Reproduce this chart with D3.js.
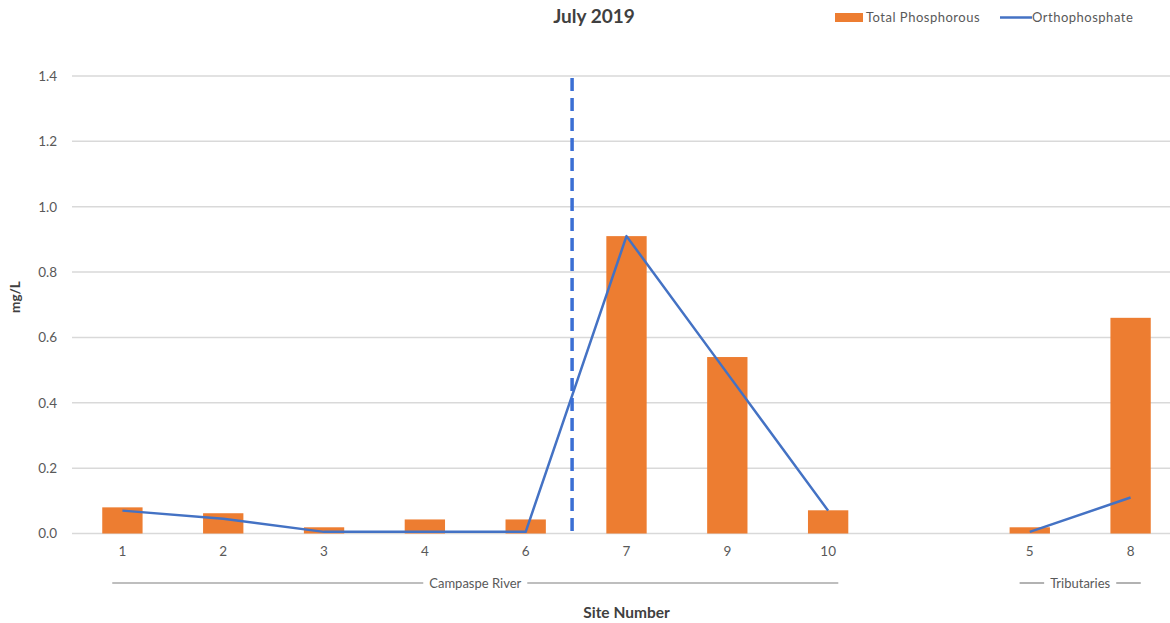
<!DOCTYPE html>
<html>
<head>
<meta charset="utf-8">
<script src="https://cdn.jsdelivr.net/npm/d3@7"></script>
<style>
  html, body { margin: 0; padding: 0; background: #fff; }
  svg { display: block; font-family: Lato, "Open Sans", sans-serif; }
</style>
</head>
<body>
<svg id="chart" width="1170" height="623"></svg>
<script>
// Site order along the x axis; the empty string leaves a blank slot between the river and tributary sites
const sites = ["1", "2", "3", "4", "6", "7", "9", "10", "", "5", "8"];
const totalPhosphorous = [0.08, 0.062, 0.019, 0.043, 0.043, 0.91, 0.54, 0.071, null, 0.019, 0.66];
const orthophosphate = [0.07, 0.045, 0.005, 0.005, 0.005, 0.91, 0.49, 0.07, null, 0.005, 0.11];
const yTicks = [0, 0.2, 0.4, 0.6, 0.8, 1.0, 1.2, 1.4];
const groups = [
  { name: "Campaspe River", first: "1", last: "10" },
  { name: "Tributaries", first: "5", last: "8" }
];
const dividerAfter = "6";
const title = "July 2019";
const seriesNames = ["Total Phosphorous", "Orthophosphate"];

const barColor = "#ED7D31";
const lineColor = "#4472C4";
const textColor = "#595959";
const gridColor = "#d9d9d9";

const svg = d3.select("#chart");
const margin = { left: 72, right: -11 };
const W = 1170;

const x = d3.scaleBand().domain(sites)
  .range([margin.left, W - margin.right])
  .paddingInner(0.6).paddingOuter(0.3);
const y = d3.scaleLinear().domain([0, 1.4]).range([533.5, 76]);

// Horizontal gridlines
svg.append("g")
  .selectAll("line").data(yTicks).join("line")
  .attr("x1", margin.left).attr("x2", W)
  .attr("y1", d => y(d)).attr("y2", d => y(d))
  .attr("stroke", gridColor).attr("stroke-width", 1.5);

// Y axis tick labels
const yAxis = d3.axisLeft(y).tickValues(yTicks).tickFormat(d3.format(".1f")).tickSize(0).tickPadding(0);
const gy = svg.append("g").attr("transform", `translate(57,0)`).call(yAxis);
gy.select(".domain").remove();
gy.selectAll("text").attr("fill", textColor).attr("font-size", 13.5).attr("font-family", "Lato, sans-serif");

// X axis tick labels
const xAxis = d3.axisBottom(x).tickSize(0).tickPadding(0);
const gx = svg.append("g").attr("transform", `translate(0,546)`).call(xAxis);
gx.select(".domain").remove();
gx.selectAll("text").attr("fill", textColor).attr("font-size", 13.5).attr("font-family", "Lato, sans-serif");

// Bars
svg.append("g")
  .selectAll("rect")
  .data(sites.map((s, i) => ({ s, v: totalPhosphorous[i] })).filter(d => d.v != null))
  .join("rect")
  .attr("x", d => x(d.s))
  .attr("width", x.bandwidth())
  .attr("y", d => y(d.v))
  .attr("height", d => y(0) - y(d.v))
  .attr("fill", barColor);

// Orthophosphate line, broken at the blank slot
const line = d3.line()
  .defined(d => d.v != null)
  .x(d => x(d.s) + x.bandwidth() / 2)
  .y(d => y(d.v));
svg.append("path")
  .datum(sites.map((s, i) => ({ s, v: orthophosphate[i] })))
  .attr("d", line)
  .attr("fill", "none")
  .attr("stroke", lineColor)
  .attr("stroke-width", 2.5)
  .attr("stroke-linejoin", "round");

// Dashed divider between site 6 and site 7
const divIdx = sites.indexOf(dividerAfter);
const divX = (x(sites[divIdx]) + x.bandwidth() + x(sites[divIdx + 1])) / 2 - 4;
svg.append("line")
  .attr("x1", divX).attr("x2", divX)
  .attr("y1", 78).attr("y2", y(0))
  .attr("stroke", "#3B6FD4")
  .attr("stroke-width", 3.5)
  .attr("stroke-dasharray", "13,7");

// Group brackets under the axis
const gg = svg.append("g").attr("font-size", 13).attr("fill", textColor);
groups.forEach(g => {
  const x0 = x(g.first) + 10;
  const x1 = x(g.last) + x.bandwidth() - 10;
  const cx = (x0 + x1) / 2;
  const t = gg.append("text").attr("x", cx).attr("y", 587.5)
    .attr("text-anchor", "middle").attr("fill", textColor).text(g.name);
  const w = t.node().getComputedTextLength();
  gg.append("line").attr("x1", x0).attr("x2", cx - w / 2 - 6)
    .attr("y1", 583).attr("y2", 583).attr("stroke", "#7f7f7f").attr("stroke-width", 1.2);
  gg.append("line").attr("x1", cx + w / 2 + 6).attr("x2", x1)
    .attr("y1", 583).attr("y2", 583).attr("stroke", "#7f7f7f").attr("stroke-width", 1.2);
});

// Axis titles
svg.append("text")
  .attr("x", (margin.left + W - margin.right) / 2).attr("y", 618)
  .attr("text-anchor", "middle").attr("font-weight", "bold")
  .attr("font-size", 15.5).attr("fill", "#404040").text("Site Number");
svg.append("text")
  .attr("transform", "translate(20,297) rotate(-90)")
  .attr("text-anchor", "middle").attr("font-weight", "bold")
  .attr("font-size", 13.5).attr("fill", "#404040").text("mg/L");

// Title
svg.append("text")
  .attr("x", 594).attr("y", 23)
  .attr("text-anchor", "middle").attr("font-weight", "bold")
  .attr("font-size", 19).attr("fill", "#404040").text(title);

// Legend
const lg = svg.append("g").attr("font-size", 13).attr("letter-spacing", 0.5).attr("fill", textColor);
lg.append("rect").attr("x", 835).attr("y", 13).attr("width", 28).attr("height", 9).attr("fill", barColor);
lg.append("text").attr("x", 866).attr("y", 22).text(seriesNames[0]);
lg.append("line").attr("x1", 1000).attr("x2", 1032).attr("y1", 17.5).attr("y2", 17.5)
  .attr("stroke", lineColor).attr("stroke-width", 2.5);
lg.append("text").attr("x", 1032).attr("y", 22).text(seriesNames[1]);
</script>
</body>
</html>
